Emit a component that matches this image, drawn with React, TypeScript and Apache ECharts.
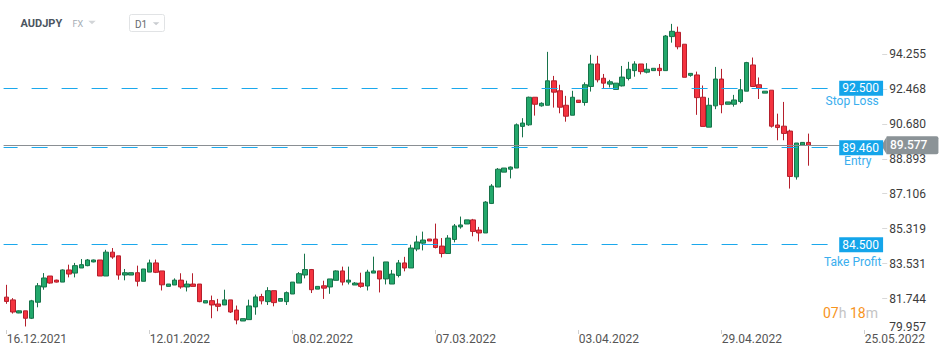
import React, { useEffect, useRef } from 'react';
import * as echarts from 'echarts';

// ---- data ----
const opens = [
  81.82, 81.68, 81.01, 81.12, 80.74, 81.56, 82.34, 82.90, 82.69, 82.59,
  83.21, 83.05, 83.31, 83.43, 83.62, 83.72, 82.90, 84.12, 83.93, 82.95,
  82.95, 83.07, 82.63, 83.10, 83.57, 83.16, 82.37, 82.44, 82.69, 82.34,
  82.49, 82.49, 81.52, 81.64, 81.47, 81.42, 81.68, 81.16, 80.60, 80.67,
  81.32, 81.85, 81.59, 82.15, 81.61, 81.59, 81.98, 82.54, 82.95, 83.23,
  82.23, 82.40, 82.34, 82.68, 83.16, 82.59, 82.44, 82.54, 82.39, 83.05,
  83.16, 82.75, 82.49, 82.93, 83.57, 83.31, 84.28, 84.58, 84.79, 84.79,
  84.43, 84.05, 84.77, 85.41, 85.56, 85.77, 85.25, 85.10, 86.61, 87.45,
  88.21, 88.36, 88.42, 90.55, 90.63, 92.04, 91.60, 91.63, 92.88, 92.37,
  91.63, 91.12, 91.89, 91.77, 92.59, 93.74, 93.01, 92.71, 92.44, 92.62,
  93.00, 93.40, 93.74, 93.32, 93.40, 93.52, 93.40, 95.14, 95.36, 94.75,
  93.16, 93.18, 92.04, 90.51, 91.60, 92.97, 91.68, 91.68, 91.82, 92.35,
  93.69, 92.68, 92.25, 92.40, 90.62, 90.56, 90.31, 87.97, 89.59, 89.73,
];
const closes = [
  81.60, 81.06, 81.12, 80.74, 81.63, 82.40, 82.80, 82.54, 82.59, 83.21,
  83.00, 83.43, 83.48, 83.72, 83.72, 82.90, 84.12, 83.87, 82.95, 83.07,
  83.07, 82.63, 83.26, 83.57, 83.09, 82.45, 82.49, 82.69, 82.34, 82.49,
  82.37, 81.59, 81.64, 81.42, 81.35, 81.68, 81.06, 80.65, 80.72, 81.37,
  81.83, 81.63, 82.15, 81.54, 81.75, 82.05, 82.59, 83.02, 83.23, 82.20,
  82.37, 82.28, 82.75, 83.16, 82.59, 82.69, 82.54, 82.37, 83.10, 83.16,
  82.75, 83.62, 83.00, 83.57, 83.31, 84.33, 84.64, 84.74, 84.69, 84.36,
  84.05, 84.84, 85.46, 85.51, 85.77, 85.18, 85.10, 86.68, 87.50, 88.36,
  88.42, 88.47, 90.63, 90.72, 92.04, 91.68, 91.73, 92.88, 92.30, 91.53,
  91.07, 92.04, 91.77, 92.68, 93.74, 92.93, 92.76, 92.83, 92.76, 93.07,
  93.47, 93.74, 93.35, 93.47, 93.52, 93.40, 95.17, 95.41, 94.62, 93.06,
  93.26, 92.02, 90.55, 91.63, 92.97, 91.66, 91.80, 91.90, 92.42, 93.81,
  92.59, 92.50, 92.35, 90.56, 90.49, 90.19, 87.99, 89.70, 89.73, 89.577,
];
const lows = [
  81.48, 80.98, 81.00, 80.32, 80.70, 81.30, 82.20, 82.51, 82.57, 82.59,
  82.83, 82.83, 83.31, 83.40, 83.60, 82.90, 82.90, 83.78, 82.71, 82.68,
  82.95, 82.37, 82.63, 83.10, 83.05, 82.16, 82.37, 82.44, 82.25, 82.11,
  82.37, 81.56, 81.52, 80.74, 81.10, 81.42, 81.01, 80.43, 80.60, 80.67,
  80.92, 81.45, 81.42, 81.35, 81.61, 81.42, 81.98, 82.54, 82.78, 82.03,
  82.23, 81.73, 81.99, 82.68, 82.42, 82.47, 82.44, 82.30, 82.16, 83.05,
  82.06, 82.47, 82.49, 82.83, 83.14, 83.31, 84.17, 84.21, 84.69, 84.31,
  83.85, 84.05, 84.62, 85.32, 85.56, 84.93, 84.67, 85.10, 86.58, 87.45,
  88.21, 87.89, 88.42, 89.99, 90.58, 91.10, 91.56, 91.63, 91.51, 91.22,
  90.79, 91.12, 91.77, 91.61, 92.33, 92.80, 92.50, 92.54, 92.44, 92.59,
  92.90, 93.09, 93.21, 93.26, 93.40, 93.13, 93.40, 94.83, 94.49, 93.06,
  93.09, 91.14, 90.55, 90.51, 91.43, 91.22, 91.68, 91.56, 91.73, 92.35,
  92.59, 91.95, 92.25, 90.49, 89.84, 89.84, 87.37, 87.83, 89.59, 88.54,
];
const highs = [
  82.45, 81.77, 81.14, 81.12, 81.68, 82.54, 83.05, 82.90, 82.71, 83.24,
  83.48, 83.57, 83.77, 83.77, 83.74, 83.72, 84.24, 84.33, 83.93, 83.26,
  83.07, 83.43, 83.26, 83.74, 83.74, 83.16, 82.49, 82.78, 83.04, 82.66,
  83.04, 82.49, 81.64, 81.90, 81.73, 82.20, 81.68, 81.39, 80.72, 81.69,
  81.95, 81.99, 82.33, 82.15, 81.75, 82.11, 82.59, 83.10, 84.04, 83.26,
  82.37, 82.66, 82.75, 83.19, 83.38, 83.38, 82.59, 83.07, 83.22, 83.89,
  83.16, 83.62, 83.21, 83.72, 83.88, 84.50, 84.96, 85.17, 84.79, 85.58,
  84.84, 84.99, 85.56, 85.94, 85.77, 85.82, 85.41, 86.73, 87.60, 88.42,
  88.42, 88.50, 90.70, 90.97, 92.07, 92.04, 91.78, 94.36, 93.13, 92.68,
  92.11, 92.37, 91.89, 92.80, 94.21, 94.16, 93.23, 92.93, 92.76, 93.64,
  93.85, 93.88, 93.74, 93.78, 93.52, 93.74, 95.22, 95.79, 95.65, 94.75,
  93.26, 93.35, 92.64, 92.01, 93.59, 93.49, 91.80, 92.16, 92.97, 93.85,
  94.07, 93.05, 92.35, 92.40, 91.20, 91.80, 90.38, 89.70, 89.73, 90.18,
];

const xTickLabels = ['16.12.2021', '12.01.2022', '08.02.2022', '07.03.2022', '03.04.2022', '29.04.2022', '25.05.2022'];
const xTickIndexes = [0, 23, 46, 69, 92, 115, 138];
const yTickValues = [81.744, 83.531, 85.319, 87.106, 88.893, 90.68, 92.468, 94.255];
const yBottomLabel = '79.957';
const levelValues = [92.5, 89.46, 84.5];
const levelNames = ['Stop Loss', 'Entry', 'Take Profit'];
const lastPrice = 89.577;
const symbolName = 'AUDJPY';
const marketName = 'FX';
const periodName = 'D1';
const timerHours = '07';
const timerMinutes = '18';
const categoryCount = 141;

// layout of the level sub-labels (pixels)
const subLabelShiftX = [-28, -22.5, -27.5];
const subLabelShiftY = [6, 6.5, 10];

function buildCategories(count: number): string[] {
  const out: string[] = [];
  const d = new Date(Date.UTC(2021, 11, 16));
  while (out.length < count) {
    if (d.getUTCDay() !== 6) {
      const dd = String(d.getUTCDate()).padStart(2, '0');
      const mm = String(d.getUTCMonth() + 1).padStart(2, '0');
      out.push(`${dd}.${mm}.${d.getUTCFullYear()}`);
    }
    d.setUTCDate(d.getUTCDate() + 1);
  }
  return out;
}

const FONT = 'Roboto, "Noto Sans", sans-serif';

export default function App() {
  const ref = useRef<HTMLDivElement>(null);
  useEffect(() => {
    if (!ref.current) return;
    const chart = echarts.init(ref.current, undefined, { renderer: 'svg' });
    const categories = buildCategories(categoryCount);
    const candles = opens.map((o, i) => [o, closes[i], lows[i], highs[i]]);
    const isTick = (i: number) => xTickIndexes.indexOf(i) >= 0;

    const levelLines = levelValues.map((v) => ({
      yAxis: v,
      lineStyle: { color: '#1ba8ec', type: [16, 14], dashOffset: 1.9, width: 1 },
      label: {
        show: true,
        position: 'end',
        distance: -41,
        formatter: v.toFixed(3),
        color: '#ffffff',
        backgroundColor: '#14a5ea',
        padding: [1, 4, 1, 3],
        fontSize: 12,
        lineHeight: 13,
        fontFamily: FONT,
      },
    }));
    const levelSubs = levelValues.map((v, i) => ({
      yAxis: v,
      lineStyle: { color: 'rgba(255,255,255,0)', width: 0 },
      label: {
        show: true,
        position: 'end',
        distance: subLabelShiftX[i],
        align: 'center',
        verticalAlign: 'top',
        padding: [subLabelShiftY[i], 0, 0, 0],
        formatter: levelNames[i],
        color: '#3aaeee',
        fontSize: 12,
        lineHeight: 14,
        fontFamily: FONT,
      },
    }));

    chart.setOption({
      animation: false,
      backgroundColor: '#ffffff',
      grid: {
        left: 3.6,
        right: 68.8,
        top: 10,
        bottom: 28,
        containLabel: false,
        outerBoundsMode: 'none',
      },
      xAxis: {
        type: 'category',
        data: categories,
        boundaryGap: true,
        axisLine: { show: false },
        axisTick: {
          show: true,
          alignWithLabel: true,
          length: 4,
          interval: (i: number) => isTick(i),
          lineStyle: { color: '#cfcfcf' },
        },
        axisLabel: {
          interval: (i: number) => isTick(i),
          formatter: (_v: string, i: number) => {
            const k = xTickIndexes.indexOf(i);
            return k >= 0 ? xTickLabels[k] : '';
          },
          align: 'left',
          margin: 3,
          color: '#555555',
          fontSize: 12,
          fontFamily: FONT,
        },
        splitLine: { show: false },
      },
      yAxis: {
        type: 'value',
        position: 'right',
        min: 80.14,
        max: 96.5,
        offset: 2,
        axisLine: { show: false },
        splitLine: { show: false },
        axisTick: {
          show: true,
          length: 5,
          customValues: yTickValues,
          lineStyle: { color: '#d9d9d9' },
        },
        axisLabel: {
          customValues: yTickValues,
          formatter: (v: number) => v.toFixed(3),
          margin: 7,
          color: '#3c3c3c',
          fontSize: 12,
          fontFamily: FONT,
          padding: [0, 0, 3, 0],
        },
      },
      series: [
        {
          type: 'candlestick',
          data: candles,
          barWidth: 5,
          itemStyle: {
            color: '#22a86b',
            color0: '#f4333f',
            borderColor: '#17734a',
            borderColor0: '#b51f2c',
            borderWidth: 1,
          },
          markPoint: {
            silent: true,
            animation: false,
            data: [
              {
                coord: [categoryCount - 1, lastPrice],
                symbol: 'path://M0,5 L6,0 L6,10 Z',
                symbolSize: [5.5, 18],
                symbolOffset: [7, 0],
                itemStyle: { color: '#8b9397' },
                label: { show: false },
              },
            ],
          },
          markLine: {
            silent: true,
            symbol: ['none', 'none'],
            animation: false,
            data: [
              {
                yAxis: lastPrice,
                lineStyle: { color: '#8a8f93', type: 'solid', width: 1 },
                label: {
                  show: true,
                  position: 'end',
                  distance: 6.5,
                  formatter: lastPrice.toFixed(3),
                  color: '#ffffff',
                  backgroundColor: '#8b9397',
                  borderRadius: [0, 2, 2, 0],
                  padding: [3, 11, 3, 3.3],
                  fontSize: 12,
                  lineHeight: 12,
                  fontWeight: 500,
                  fontFamily: FONT,
                },
              },
              ...levelLines,
              ...levelSubs,
            ],
          },
        },
      ],
      graphic: [
        {
          type: 'text',
          x: 20.5,
          y: 23.2,
          style: { text: symbolName, font: `bold 11px ${FONT}`, fill: '#4b5560', verticalAlign: 'middle' },
        },
        {
          type: 'text',
          x: 72.5,
          y: 24.2,
          style: { text: marketName, font: `9px ${FONT}`, fill: '#a4acb4', verticalAlign: 'middle' },
        },
        {
          type: 'polygon',
          shape: { points: [[88.3, 20.8], [95.7, 20.8], [92, 24.2]] },
          style: { fill: '#d2d5d8' },
        },
        {
          type: 'rect',
          shape: { x: 129.5, y: 14.5, width: 35, height: 17, r: 2 },
          style: { fill: '#ffffff', stroke: '#e1e3e5', lineWidth: 1 },
        },
        {
          type: 'text',
          x: 135,
          y: 24,
          style: { text: periodName, font: `10px ${FONT}`, fill: '#666a6e', verticalAlign: 'middle' },
        },
        {
          type: 'polygon',
          shape: { points: [[152.8, 22.3], [159.4, 22.3], [156.1, 25.3]] },
          style: { fill: '#c9ccd0' },
        },
        {
          type: 'text',
          x: 889.2,
          y: 326.5,
          style: { text: yBottomLabel, font: `12px ${FONT}`, fill: '#3c3c3c', verticalAlign: 'middle' },
        },
        {
          type: 'text',
          x: 823,
          y: 312.5,
          style: {
            text: `{o|${timerHours}}{g|h} {o|${timerMinutes}}{g|m}`,
            font: `14px ${FONT}`,
            verticalAlign: 'middle',
            rich: {
              o: { fill: '#f7941d', font: `14px ${FONT}` },
              g: { fill: '#c4c4c4', font: `14px ${FONT}` },
            },
          },
        },
      ],
    });
    return () => chart.dispose();
  }, []);

  return (
    <div
      ref={ref}
      style={{ position: 'fixed', left: 0, top: 0, width: 949, height: 358, background: '#fff' }}
    />
  );
}
